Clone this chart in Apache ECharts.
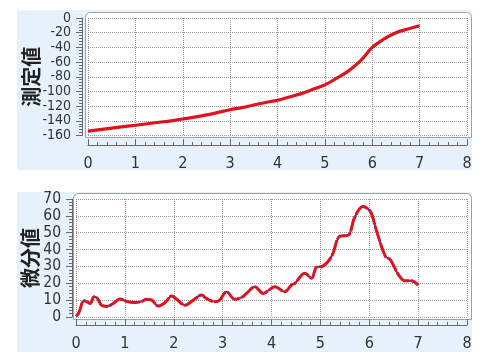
<!DOCTYPE html>
<html><head><meta charset="utf-8">
<script src="https://cdn.jsdelivr.net/npm/echarts@6/dist/echarts.min.js"></script>
<style>html,body{margin:0;padding:0;background:#fff}#c{width:495px;height:361px}</style>
</head><body><div id="c"></div>
<script>
// ---- data ----
const xTicks = [0, 1, 2, 3, 4, 5, 6, 7, 8];
const topYTicks = [-160, -140, -120, -100, -80, -60, -40, -20, 0];
const botYTicks = [0, 10, 20, 30, 40, 50, 60, 70];
const topName = '測定値';
const botName = '微分値';

const topX = [0, 0.25, 0.5, 0.75, 1, 1.25, 1.5, 1.75, 2, 2.25, 2.5, 2.75, 3, 3.25, 3.5, 3.75, 4, 4.25, 4.5, 4.75, 5, 5.25, 5.5, 5.75, 6, 6.25, 6.5, 6.75, 7];
const topY = [-154, -152, -150, -148, -146, -144, -142, -140, -137.5, -135, -132, -128.5, -125, -122, -118.5, -115, -112, -107.5, -103, -97, -91, -82, -72, -58.5, -40, -28.5, -20, -15, -10.5];

const botX = [0, 0.05, 0.1, 0.12, 0.16, 0.23, 0.29, 0.37, 0.44, 0.52, 0.63, 0.76, 0.9, 1.04, 1.2, 1.34, 1.44, 1.55, 1.68, 1.82, 1.96, 2.06, 2.23, 2.4, 2.57, 2.67, 2.84, 2.94, 3.08, 3.25, 3.39, 3.49, 3.66, 3.83, 4.07, 4.27, 4.41, 4.48, 4.68, 4.82, 4.92, 5.04, 5.23, 5.4, 5.57, 5.7, 5.87, 5.98, 6.05, 6.15, 6.33, 6.43, 6.6, 6.73, 6.86, 7.0];
const botY = [0.5, 2, 6, 8, 9.7, 9, 8, 12, 11, 7, 6.3, 8, 10.7, 9.2, 8.6, 9.2, 10.5, 10, 6.5, 8.5, 12.5, 10.5, 7, 10, 13, 11, 9, 10, 15, 10.5, 11.7, 14, 18, 14, 18, 15, 19, 20, 26, 23, 29.5, 30, 36, 48, 48.5, 59, 65.5, 64, 61, 51, 36, 34, 25, 21.5, 21.5, 19];

// ---- styling ----
const FONT = "'Liberation Sans Narrow', 'DejaVu Sans Condensed', 'Liberation Sans', sans-serif";
const CJK = "'Noto Sans CJK JP', 'Noto Sans CJK SC', sans-serif";
const AX = '#6a6a6a';
const TXT = '#333';
const PANEL = '#e6f1fb';

function xAxisCfg(gridIndex, offset) {
  return {
    type: 'value', gridIndex, position: 'bottom', offset,
    min: xTicks[0], max: xTicks[xTicks.length - 1], interval: xTicks[1] - xTicks[0],
    axisLine: { show: true, onZero: false, lineStyle: { color: AX, width: 1 } },
    axisTick: { show: true, inside: true, length: 6, lineStyle: { color: AX } },
    minorTick: { show: true, splitNumber: 5, length: 3, lineStyle: { color: AX } },
    axisLabel: { interval: 0, fontSize: 16, color: TXT, margin: 11, fontFamily: FONT, showMinLabel: true, showMaxLabel: true, hideOverlap: false },
    splitLine: { show: true, lineStyle: { type: 'dotted', color: '#9c9c9c', width: 1 } }
  };
}
function yAxisCfg(gridIndex, ticks, offset, name, nameGap, fs) {
  return {
    type: 'value', gridIndex, offset,
    min: ticks[0], max: ticks[ticks.length - 1], interval: ticks[1] - ticks[0],
    name, nameLocation: 'middle', nameRotate: 90, nameGap, nameMoveOverlap: false,
    nameTextStyle: { fontSize: 20, fontWeight: 'bold', color: '#222', fontFamily: CJK },
    axisLine: { show: true, onZero: false, lineStyle: { color: AX, width: 1 } },
    axisTick: { show: true, inside: false, length: 6, lineStyle: { color: AX } },
    minorTick: { show: true, splitNumber: 5, length: 3, lineStyle: { color: AX } },
    axisLabel: { interval: 0, fontSize: fs, color: TXT, margin: 11, fontFamily: FONT, showMinLabel: true, showMaxLabel: true, hideOverlap: false },
    splitLine: { show: true, lineStyle: { type: 'dotted', color: '#9c9c9c', width: 1 } }
  };
}

const chart = echarts.init(document.getElementById('c'), null, { renderer: 'canvas' });
chart.setOption({
  animation: false,
  backgroundColor: '#fff',
  graphic: [
    { type: 'rect', z: -10, shape: { x: 17, y: 10, width: 455, height: 160 }, style: { fill: PANEL } },
    { type: 'rect', z: -10, shape: { x: 17, y: 192, width: 455, height: 160 }, style: { fill: PANEL } },
    { type: 'rect', z: -9, shape: { x: 85.5, y: 12.5, width: 386, height: 125, r: [5, 5, 0, 0] }, style: { fill: '#fff', stroke: '#a0a0a0', lineWidth: 1 } },
    { type: 'rect', z: -9, shape: { x: 73.5, y: 193.5, width: 398, height: 126, r: [5, 5, 0, 0] }, style: { fill: '#fff', stroke: '#a0a0a0', lineWidth: 1 } }
  ],
  grid: [
    { left: 88, top: 18, width: 379, height: 117.5 },
    { left: 76, top: 199, width: 391, height: 118 }
  ],
  xAxis: [xAxisCfg(0, 9.5), xAxisCfg(1, 8)],
  yAxis: [
    yAxisCfg(0, topYTicks, 6, topName, 41, 14),
    yAxisCfg(1, botYTicks, 4, botName, 32, 15.5)
  ],
  series: [
    {
      type: 'line', xAxisIndex: 0, yAxisIndex: 0, showSymbol: false, smooth: 0.4,
      data: topX.map((x, i) => [x, topY[i]]),
      lineStyle: { color: '#e0131c', width: 3.2 }
    },
    {
      type: 'line', xAxisIndex: 1, yAxisIndex: 1, showSymbol: false, smooth: 0.35,
      data: botX.map((x, i) => [x, botY[i]]),
      lineStyle: { color: '#3b3fc4', width: 2 }
    },
    {
      type: 'line', xAxisIndex: 1, yAxisIndex: 1, showSymbol: false, smooth: 0.35,
      data: botX.map((x, i) => [x, botY[i]]),
      lineStyle: { color: '#e0131c', width: 3, type: [16, 1.5] }
    }
  ]
});
</script>
</body></html>
